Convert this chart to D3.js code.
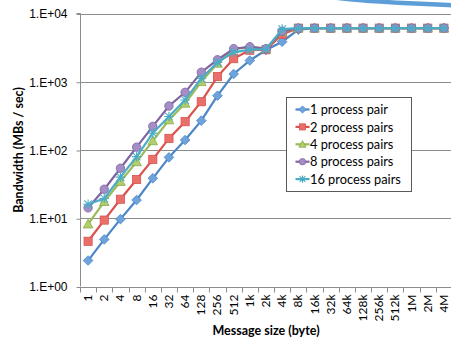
<!DOCTYPE html>
<html>
<head>
<meta charset="utf-8">
<script src="https://cdn.jsdelivr.net/npm/d3@7"></script>
<style>
  html, body { margin: 0; padding: 0; background: #fff; }
  svg { display: block; font-family: Lato, "Liberation Sans", sans-serif; }
  .tick-label { font-size: 12px; fill: #000; }
  .axis-title { font-size: 12.5px; font-weight: bold; fill: #000; }
  .legend-text { font-size: 12.8px; fill: #000; }
</style>
</head>
<body>
<div id="chart"></div>
<script>
// Message sizes (x categories)
const sizes = ['1', '2', '4', '8', '16', '32', '64', '128', '256', '512', '1k', '2k', '4k',
  '8k', '16k', '32k', '64k', '128k', '256k', '512k', '1M', '2M', '4M'];

// Bandwidth in MBs / sec
const pair1 = [2.4, 4.9, 9.7, 18.5, 38.5, 78, 140, 269, 625, 1300, 2050, 2920, 3860,
  5800, 6100, 6100, 6100, 6100, 6100, 6100, 6100, 6100, 6100];
const pair2 = [4.6, 9.4, 19, 37, 73, 148, 260, 510, 1190, 2180, 2900, 2950, 4950,
  6100, 6100, 6100, 6100, 6100, 6100, 6100, 6100, 6100, 6100];
const pair4 = [8.2, 17.5, 34.5, 67, 136, 275, 483, 1000, 1860, 3000, 3250, 3050, 5400,
  6100, 6100, 6100, 6100, 6100, 6100, 6100, 6100, 6100, 6100];
const pair8 = [14.2, 26.6, 54, 110, 222, 441, 700, 1380, 2100, 3050, 3250, 3050, 5500,
  6100, 6100, 6100, 6100, 6100, 6100, 6100, 6100, 6100, 6100];
const pair16 = [16, 19.5, 40, 80, 177, 310, 540, 1120, 1920, 2700, 2950, 3000, 5900,
  6100, 6100, 6100, 6100, 6100, 6100, 6100, 6100, 6100, 6100];

const seriesNames = ['1 process pair', '2 process pairs', '4 process pairs', '8 process pairs', '16 process pairs'];
const yTicks = [1, 10, 100, 1000, 10000];

const W = 451, H = 341;
const series = [
  { name: seriesNames[0], values: pair1, line: '#4a86c8', fill: '#6fa3dc', marker: 'diamond' },
  { name: seriesNames[1], values: pair2, line: '#d9534f', fill: '#ea6f6b', marker: 'square' },
  { name: seriesNames[2], values: pair4, line: '#9bbb59', fill: '#b2d068', marker: 'triangle' },
  { name: seriesNames[3], values: pair8, line: '#8064a2', fill: '#a58dc6', marker: 'circle' },
  { name: seriesNames[4], values: pair16, line: '#4bacc6', fill: '#4bacc6', marker: 'star' }
];

const svg = d3.select('#chart').append('svg')
  .attr('width', W).attr('height', H);

const x = d3.scaleBand().domain(sizes).range([80, 452]).padding(0);
const y = d3.scaleLog().domain([1, 10000]).range([286.5, 13.5]);
const cx = d => x(d) + x.bandwidth() / 2;

// decorative blue stroke at the very top (cut from the page above)
svg.append('path')
  .attr('d', d3.line().curve(d3.curveBasis)([[330, -3], [360, 0.5], [400, 3], [458, 5.5]]))
  .attr('fill', 'none').attr('stroke', '#5d9dd8').attr('stroke-width', 4.5);

// gridlines
svg.append('g').selectAll('line').data(yTicks.slice(1)).join('line')
  .attr('x1', 80).attr('x2', 455)
  .attr('y1', d => Math.round(y(d)) + 0.5).attr('y2', d => Math.round(y(d)) + 0.5)
  .attr('stroke', '#8c8c8c').attr('stroke-width', 1);

// y axis
const yAxis = svg.append('g').attr('transform', 'translate(80.5,0)')
  .call(d3.axisLeft(y).tickValues(yTicks).tickSize(4).tickPadding(9)
    .tickFormat(d => '1.E+0' + Math.round(Math.log10(d))));
yAxis.select('.domain').attr('stroke', '#8c8c8c').attr('d', `M-4,${y(10000)}H0V${y(1)}`);
yAxis.selectAll('.tick line').attr('stroke', '#8c8c8c').attr('transform', 'translate(0,0.5)');
yAxis.selectAll('.tick text').attr('class', 'tick-label').attr('font-family', null).attr('font-size', null)
  .attr('dy', '0.36em');

// x axis
const xAxis = svg.append('g').attr('transform', `translate(0,${Math.round(y(1)) + 0.5})`);
xAxis.append('line').attr('x1', 80).attr('x2', 455).attr('stroke', '#8c8c8c');
xAxis.selectAll('line.tk').data(sizes.concat(['end'])).join('line').attr('class', 'tk')
  .attr('x1', (d, i) => Math.round(i < sizes.length ? x(d) : x.range()[1]) + 0.5)
  .attr('x2', (d, i) => Math.round(i < sizes.length ? x(d) : x.range()[1]) + 0.5)
  .attr('y1', 0).attr('y2', 5).attr('stroke', '#8c8c8c');
xAxis.selectAll('text').data(sizes).join('text').attr('class', 'tick-label')
  .attr('transform', d => `translate(${cx(d) + 4},7) rotate(-90)`)
  .attr('text-anchor', 'end')
  .text(d => d);

// axis titles
svg.append('text').attr('class', 'axis-title')
  .attr('transform', `translate(23,${150}) rotate(-90)`)
  .attr('text-anchor', 'middle').text('Bandwidth (MBs / sec)');
svg.append('text').attr('class', 'axis-title')
  .attr('x', 266).attr('y', 335).attr('text-anchor', 'middle').text('Message size (byte)');

// markers
function drawMarker(g, type, s, line, fill) {
  if (type === 'diamond') {
    g.append('path').attr('d', `M0,${-s}L${s},0L0,${s}L${-s},0Z`)
      .attr('fill', fill).attr('stroke', line).attr('stroke-width', 0.8);
  } else if (type === 'square') {
    const h = s * 0.85;
    g.append('rect').attr('x', -h).attr('y', -h).attr('width', 2 * h).attr('height', 2 * h)
      .attr('fill', fill).attr('stroke', line).attr('stroke-width', 0.8);
  } else if (type === 'triangle') {
    g.append('path').attr('d', `M0,${-s}L${s},${s * 0.8}L${-s},${s * 0.8}Z`)
      .attr('fill', fill).attr('stroke', '#8aa84e').attr('stroke-width', 0.8);
  } else if (type === 'circle') {
    g.append('circle').attr('r', s * 0.88)
      .attr('fill', fill).attr('stroke', line).attr('stroke-width', 0.8);
  } else {
    const a = s * 0.8;
    g.append('path').attr('d', `M0,${-s}V${s}M${-a},${-a}L${a},${a}M${-a},${a}L${a},${-a}M${-s},0H${s}`)
      .attr('stroke', line).attr('stroke-width', 1.1).attr('fill', 'none');
  }
}

const line = d3.line().x((d, i) => cx(sizes[i])).y(d => y(d));

series.forEach(s => {
  const g = svg.append('g');
  g.append('path').attr('d', line(s.values))
    .attr('fill', 'none').attr('stroke', s.line).attr('stroke-width', 2.2);
  s.values.forEach((v, i) => {
    const m = g.append('g').attr('transform', `translate(${cx(sizes[i])},${y(v)})`);
    drawMarker(m, s.marker, 4.8, s.line, s.fill);
  });
});

// legend
const lg = svg.append('g').attr('transform', 'translate(286.5,97.5)');
lg.append('rect').attr('width', 125).attr('height', 94)
  .attr('fill', '#fff').attr('stroke', '#595959').attr('stroke-width', 1);
series.forEach((s, i) => {
  const row = lg.append('g').attr('transform', `translate(0,${12 + i * 17.4})`);
  row.append('line').attr('x1', 9).attr('x2', 23).attr('stroke', s.line).attr('stroke-width', 2.2);
  const m = row.append('g').attr('transform', 'translate(16,0)');
  drawMarker(m, s.marker, 3.6, s.line, s.fill);
  row.append('text').attr('class', 'legend-text').attr('x', 23.5).attr('dy', '0.36em').text(s.name);
});
</script>
</body>
</html>
